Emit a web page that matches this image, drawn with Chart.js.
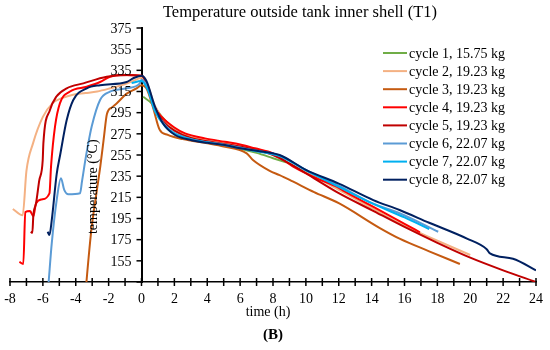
<!DOCTYPE html>
<html>
<head>
<meta charset="utf-8">
<script src="https://cdn.jsdelivr.net/npm/chart.js@4"></script>
<style>
  body { margin: 0; background: #fff; }
</style>
</head>
<body>
<canvas id="tank-chart" width="550" height="350"></canvas>
<script>
// Series data: time (h) and temperature (°C) per cycle
const cycle1Time = [0.1, 0.6, 1.2, 2, 3, 4, 5, 6, 7, 8, 8.8];
const cycle1Temp = [310, 304, 292, 279, 270, 267, 264, 261, 257, 252, 248];

const cycle2Time = [-7.83, -7.23, -7.0, -6.6, -6.0, -5.4, -4.8, -4.16, -3.4, -2.7, -1.9, -1.2, -0.5, 0, 0.4, 0.8, 1.5, 2, 3, 4, 5, 6, 7, 8, 9.2, 10.5, 12, 14, 16, 17, 18, 20];
const cycle2Temp = [204, 198, 240, 266, 291, 304, 309, 312, 313.5, 315, 318, 321, 325, 328, 320, 302, 285, 279, 272, 269, 266.5, 263, 260, 256, 245, 235, 222, 205, 188, 181, 174, 160.5];

const cycle3Time = [-3.35, -3.23, -3.03, -2.75, -2.5, -2.3, -2.1, -1.8, -1.5, -0.9, -0.3, 0, 0.3, 0.7, 1.1, 1.6, 2.5, 4, 5, 6.4, 6.8, 7.8, 8.4, 9.2, 10.5, 12, 14.5, 15.7, 17.5, 19.37];
const cycle3Temp = [135, 156, 187, 218, 245, 270, 294, 300, 304, 313, 318, 321, 318, 300, 279, 274, 270, 266, 263, 256.6, 250, 240, 236, 230, 220, 209.5, 186, 176, 164, 152];

const cycle4Time = [-7.43, -7.19, -7.07, -6.78, -6.58, -6.42, -6.07, -5.6, -5.5, -5.26, -4.96, -4.35, -3.33, -2.52, -1.92, -1.3, 0, 0.2, 0.8, 1.23, 2, 2.65, 3.86, 5.08, 6, 6.9, 8, 9.23, 10.5, 12, 12.3, 14, 16, 16.94];
const cycle4Temp = [154, 152, 201, 202, 197, 209, 213, 218.7, 245, 282, 304, 315, 319.5, 324, 329, 330.5, 330, 327, 300, 291, 281, 275.4, 270.7, 267.5, 265, 261.3, 256.6, 244, 234, 224, 221, 207, 190, 182];

const cycle5Time = [-6.74, -6.64, -6.58, -6.42, -6.22, -6.01, -5.97, -5.57, -5.19, -4.55, -3.54, -2.12, -0.9, 0, 0.2, 0.8, 1.3, 2, 3, 4, 5, 6, 7, 8, 9, 10.5, 12, 14, 16, 18, 20, 22, 24];
const cycle5Temp = [182.5, 181.5, 198, 209, 231, 250, 266, 297.5, 310, 318, 322.7, 329, 330.6, 330, 326, 300, 287, 278, 271, 268, 265.5, 263, 259.5, 255, 247, 233, 219, 203, 187, 172, 158, 146, 135];

const cycle6Time = [-5.65, -5.46, -5.16, -4.9, -4.7, -4.45, -3.74, -3.62, -3.45, -3.25, -3.03, -2.52, -1.92, -0.9, -0.1, 0, 0.4, 0.8, 1.5, 2, 3, 4, 5, 6, 7, 8.4, 10, 12, 14.1, 15.7, 18.05];
const cycle6Temp = [135, 171.5, 212.4, 233, 222, 217.8, 218.8, 230, 247, 265, 282, 307, 314.8, 318, 322.7, 326, 318, 298, 282, 276, 270, 267, 265, 262, 259, 254.5, 241, 226, 209, 200, 182.5];

const cycle7Time = [-0.6, 0, 0.4, 0.8, 1.5, 2, 3, 4, 5, 6, 7, 8.4, 10, 12, 14, 16, 17.5];
const cycle7Temp = [323, 325, 316, 297, 281, 275, 270, 267, 264.5, 261.5, 258.5, 254, 240.5, 225, 209.5, 196, 185];

const cycle8Time = [-5.71, -5.6, -5.46, -5.16, -4.95, -4.55, -4.15, -3.33, -2.52, -0.9, -0.5, 0, 0.3, 0.82, 1.3, 2.04, 3.05, 4, 5.08, 6, 7, 8.4, 10, 12, 14.1, 15.7, 17.5, 19.8, 21, 21.2, 22.6, 24];
const cycle8Temp = [182.5, 179.3, 193.5, 237, 255, 288, 307, 318, 321, 324, 327.5, 330, 325, 300.6, 285, 273.9, 269, 266.5, 264.4, 261.3, 259, 255, 241, 228, 212.4, 203, 191, 176, 166, 162, 157, 146];

const seriesLabels = [
  "cycle 1, 15.75 kg",
  "cycle 2, 19.23 kg",
  "cycle 3, 19.23 kg",
  "cycle 4, 19.23 kg",
  "cycle 5, 19.23 kg",
  "cycle 6, 22.07 kg",
  "cycle 7, 22.07 kg",
  "cycle 8, 22.07 kg",
];
const seriesColors = ["#70ad47", "#f4b183", "#c55a11", "#ff0000", "#c00000", "#5b9bd5", "#00b0f0", "#002060"];

const yTickMin = 135;
const yTickMax = 375;
const yTickStep = 20;
const xTickMin = -8;
const xTickMax = 24;

const allTimes = [cycle1Time, cycle2Time, cycle3Time, cycle4Time, cycle5Time, cycle6Time, cycle7Time, cycle8Time];
const allTemps = [cycle1Temp, cycle2Temp, cycle3Temp, cycle4Temp, cycle5Temp, cycle6Temp, cycle7Temp, cycle8Temp];

const FONT = "'Liberation Serif', 'Times New Roman', serif";

const datasets = allTimes.map((times, i) => ({
  label: seriesLabels[i],
  data: times.map((t, j) => ({ x: t, y: allTemps[i][j] })),
  borderColor: seriesColors[i],
  backgroundColor: seriesColors[i],
  borderWidth: 2,
  pointRadius: 0,
  cubicInterpolationMode: "monotone",
  showLine: true,
  order: allTimes.length - 1 - i, // last cycle drawn on top, like the original
}));

// Texts, the legend, the y labels and the crossing x ticks
const decorations = {
  id: "decorations",
  afterDraw(chart) {
    const { ctx, chartArea, scales } = chart;
    ctx.save();
    ctx.fillStyle = "#000";

    // title
    ctx.font = `16.5px ${FONT}`;
    ctx.textAlign = "center";
    ctx.textBaseline = "middle";
    ctx.fillText("Temperature outside tank inner shell (T1)", 300, 13);

    // x ticks crossing the axis line
    ctx.strokeStyle = "#000";
    ctx.lineWidth = 1.5;
    scales.x.ticks.forEach((tick) => {
      const px = scales.x.getPixelForValue(tick.value);
      ctx.beginPath();
      ctx.moveTo(px, chartArea.bottom - 4);
      ctx.lineTo(px, chartArea.bottom + 4);
      ctx.stroke();
    });

    // y ticks and labels left of the axis line (the axis sits at x = 0)
    const axisX = scales.x.getPixelForValue(0);
    ctx.font = `14px ${FONT}`;
    ctx.textAlign = "right";
    scales.y.ticks.forEach((tick) => {
      const py = scales.y.getPixelForValue(tick.value);
      ctx.beginPath();
      ctx.moveTo(axisX - 5, py);
      ctx.lineTo(axisX, py);
      ctx.stroke();
      if (tick.value !== yTickMin) ctx.fillText(String(tick.value), axisX - 10, py + 1);
    });

    // x axis title and panel letter
    const midX = (chartArea.left + chartArea.right) / 2;
    ctx.textAlign = "center";
    ctx.fillText("time (h)", midX - 5, chartArea.bottom + 30);
    ctx.font = `bold 15px ${FONT}`;
    ctx.fillText("(B)", midX, chartArea.bottom + 53);

    // rotated y axis title
    ctx.save();
    ctx.translate(scales.x.getPixelForValue(-2.95), scales.y.getPixelForValue(225));
    ctx.rotate(-Math.PI / 2);
    ctx.font = `14px ${FONT}`;
    ctx.fillText("temperature (°C)", 0, 0);
    ctx.restore();

    // legend
    ctx.font = `14px ${FONT}`;
    ctx.textAlign = "left";
    chart.data.datasets.forEach((ds, i) => {
      const y = 53 + i * 18.1;
      ctx.strokeStyle = ds.borderColor;
      ctx.lineWidth = 2;
      ctx.beginPath();
      ctx.moveTo(383, y);
      ctx.lineTo(407, y);
      ctx.stroke();
      ctx.fillText(ds.label, 409, y + 1);
    });
    ctx.restore();
  },
};

const ctx = document.getElementById("tank-chart").getContext("2d");

new Chart(ctx, {
  type: "scatter",
  data: { datasets },
  options: {
    responsive: false,
    animation: false,
    layout: {
      padding: { top: 28, left: 10, right: 14, bottom: 0 },
    },
    scales: {
      x: {
        type: "linear",
        min: xTickMin,
        max: xTickMax,
        afterFit: (scale) => {
          scale.height = 68;
        },
        grid: { display: false },
        border: { display: true, color: "#000", width: 1.5 },
        ticks: {
          stepSize: 1,
          autoSkip: false,
          maxRotation: 0,
          color: "#000",
          padding: 1,
          font: { family: FONT, size: 14 },
          callback: (v) => (v % 2 === 0 ? String(v) : ""),
        },
      },
      y: {
        type: "linear",
        position: { x: 0 },
        min: yTickMin,
        max: yTickMax,
        grid: { display: false },
        border: { display: true, color: "#000", width: 2 },
        ticks: {
          stepSize: yTickStep,
          display: false,
        },
      },
    },
    plugins: {
      legend: { display: false },
      tooltip: { enabled: false },
    },
  },
  plugins: [decorations],
});
</script>
</body>
</html>
